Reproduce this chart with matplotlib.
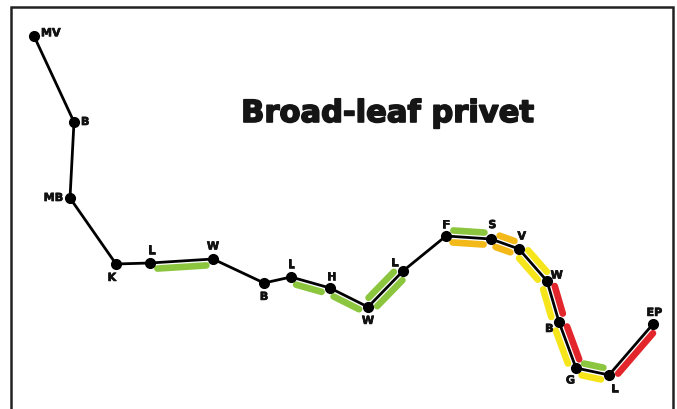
import numpy as np
import matplotlib
matplotlib.use("Agg")
from matplotlib import pyplot as plt
from matplotlib.patches import Rectangle
import matplotlib.patheffects as pe

# stops along the route (position, height)
names = ["MV", "B", "MB", "K", "L", "W", "B", "L", "H", "W", "L",
         "F", "S", "V", "W", "B", "G", "L", "EP"]
pos = [34, 74, 70, 116, 150, 213, 264, 291, 330, 368, 403,
       446, 491, 519, 547, 559, 576, 609, 653]
height = [373, 287, 211, 145, 146, 150, 126, 132, 121, 102, 138,
          173, 170, 160, 128, 87, 41, 34, 85]

# label offsets (points) for each stop
lab_dx = [5, 5, -5, -3, 1, 0, 0, 0, 1, 0, -6, 0, 1, 2, 7, -7, -4, 4, 1]
lab_dy = [2, 0, 0, -10, 9, 9, -10, 9, 8, -10, 6, 8, 10, 9, 4, -5, -9, -10, 8]
lab_ha = ["left", "left", "right", "center", "center", "center", "center",
          "center", "center", "center", "center", "center", "center",
          "center", "center", "center", "center", "center", "center"]

# coloured bars beside segments: (segment start index, side, colour)
GREEN = "#8cc63f"
GOLD = "#f2b918"
YELLOW = "#f6e51b"
RED = "#e3262b"
seg_idx = [4, 7, 8, 9, 9, 11, 11, 12, 12, 13, 13, 14, 14, 15, 15, 16, 16, 17]
seg_side = [-1, -1, -1, 1, -1, 1, -1, 1, -1, 1, -1, 1, -1, 1, -1, 1, -1, -1]
seg_col = [GREEN, GREEN, GREEN, GREEN, GREEN, GREEN, GOLD, GOLD, GOLD,
           YELLOW, YELLOW, RED, YELLOW, RED, YELLOW, GREEN, YELLOW, RED]

fig = plt.figure(figsize=(6.77, 4.09), dpi=100)
ax = fig.add_axes([0, 0, 1, 1])
ax.set_xlim(0, 677)
ax.set_ylim(0, 409)
ax.axis("off")

# bars, offset perpendicular to each segment in display space
fig.canvas.draw()
disp = ax.transData.transform(np.column_stack([pos, height]))
inv = ax.transData.inverted()
off = 6
shrink = 7
for i, side, c in zip(seg_idx, seg_side, seg_col):
    a, b = disp[i], disp[i + 1]
    d = b - a
    u = d / np.hypot(*d)
    n = np.array([-u[1], u[0]]) * side
    p0 = a + u * shrink + n * off
    p1 = b - u * shrink + n * off
    q = inv.transform([p0, p1])
    ax.plot(q[:, 0], q[:, 1], color=c, lw=4.8, solid_capstyle="round", zorder=1)

ax.plot(pos, height, color="black", lw=2.0, marker="o", ms=7, zorder=2)

for i in range(len(names)):
    ax.annotate(names[i], (pos[i], height[i]), xytext=(lab_dx[i], lab_dy[i]),
                textcoords="offset points", ha=lab_ha[i], va="center",
                fontsize=8, fontweight="bold", family="DejaVu Sans",
                color="#111111", zorder=3,
                path_effects=[pe.withStroke(linewidth=0.5, foreground="#111111")])

ax.text(387 / 677, 1 - 122 / 409, "Broad-leaf privet", transform=ax.transAxes,
        ha="center", va="baseline", fontsize=22, fontweight="bold",
        family="DejaVu Sans", color="#151515",
        path_effects=[pe.withStroke(linewidth=1.2, foreground="#151515")])

ax.add_patch(Rectangle((11 / 677, -0.1), 662 / 677, 1.083, transform=ax.transAxes,
                       fill=False, lw=1.8, edgecolor="#222222", clip_on=False))

fig.savefig("out.png", dpi=100)
